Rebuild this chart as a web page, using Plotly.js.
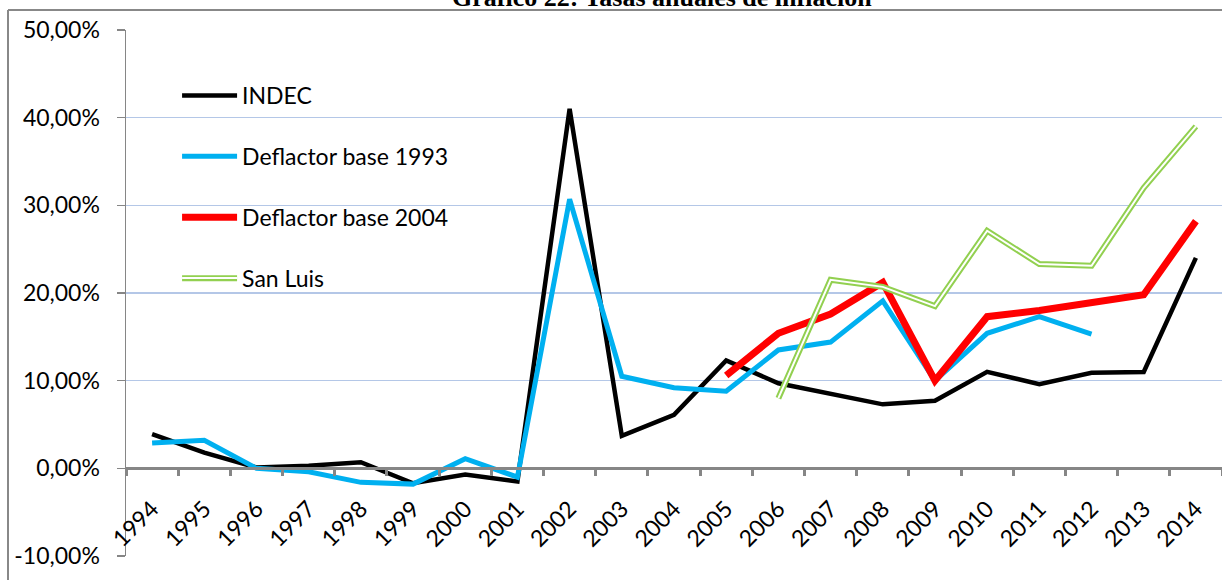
<!DOCTYPE html>
<html>
<head>
<meta charset="utf-8">
<script src="https://cdn.plot.ly/plotly-3.0.1.min.js"></script>
<style>html,body{margin:0;padding:0;background:#fff;}#chart{width:1222px;height:580px;}</style>
</head>
<body>
<div id="chart"></div>
<script>
const years = ['1994','1995','1996','1997','1998','1999','2000','2001','2002','2003','2004','2005','2006','2007','2008','2009','2010','2011','2012','2013','2014'];
const indec = [3.9,1.8,0.1,0.3,0.7,-1.7,-0.7,-1.5,41.0,3.7,6.1,12.3,9.7,8.5,7.3,7.7,11.0,9.6,10.9,11.0,24.0];
const deflactor1993 = [2.9,3.2,0.0,-0.4,-1.6,-1.8,1.1,-1.0,30.7,10.5,9.2,8.8,13.5,14.4,19.1,10.0,15.4,17.3,15.3,null,null];
const deflactor2004 = [null,null,null,null,null,null,null,null,null,null,null,10.6,15.4,17.6,21.2,10.0,17.3,18.0,18.8,19.8,28.2];
const sanLuis = [null,null,null,null,null,null,null,null,null,null,null,null,8.0,21.5,20.7,18.5,27.1,23.3,23.1,32.0,39.0];
const seriesNames = ['INDEC','Deflactor base 1993','Deflactor base 2004','San Luis'];
const yTicks = [-10,0,10,20,30,40,50];
const yTickLabels = ['-10,00%','0,00%','10,00%','20,00%','30,00%','40,00%','50,00%'];
const titleText = 'Gráfico 22: Tasas anuales de inflación';

const FONT = 'Lato, "Open Sans", sans-serif';
const traces = [
  {x: years, y: indec, name: seriesNames[0], mode: 'lines', legendgroup: 'g1',
   line: {color: '#000000', width: 4.5}},
  {x: years, y: deflactor1993, name: seriesNames[1], mode: 'lines', legendgroup: 'g2',
   line: {color: '#00B0F0', width: 5}},
  {x: years, y: deflactor2004, name: seriesNames[2], mode: 'lines', legendgroup: 'g3',
   line: {color: '#FF0000', width: 7}},
  {x: years, y: sanLuis, name: seriesNames[3], mode: 'lines', legendgroup: 'g4',
   line: {color: '#92D050', width: 6}},
  {x: years, y: sanLuis, name: '', mode: 'lines', legend: 'legend2', showlegend: true,
   hoverinfo: 'skip', line: {color: '#FFFFFF', width: 2}}
];

const legendX = 0.0466;
const legendFont = {family: FONT, size: 23, color: '#000000'};
const layout = {
  width: 1222, height: 580,
  margin: {l: 126, r: 0, t: 30, b: 24},
  paper_bgcolor: '#ffffff', plot_bgcolor: '#ffffff',
  separators: ',.',
  font: {family: FONT, size: 23, color: '#000000'},
  showlegend: true,
  legend: {
    x: legendX, y: 1 - 44/526, xanchor: 'left', yanchor: 'top',
    bgcolor: 'rgba(0,0,0,0)', borderwidth: 0,
    font: legendFont, itemwidth: 55, tracegroupgap: 28, traceorder: 'grouped'
  },
  legend2: {
    x: legendX, y: (556 - 278) / 526, xanchor: 'left', yanchor: 'middle',
    bgcolor: 'rgba(0,0,0,0)', borderwidth: 0,
    font: legendFont, itemwidth: 55
  },
  xaxis: {
    type: 'category', anchor: 'free', position: 1/6,
    showline: true, linecolor: '#868686', linewidth: 3,
    ticks: 'outside', ticklen: 6, tickwidth: 3, tickcolor: '#868686',
    tickson: 'boundaries', tickangle: -45, ticklabelstandoff: 16,
    showgrid: false, zeroline: false,
    tickfont: {family: FONT, size: 23, color: '#000000'},
    range: [-0.5, 20.5], fixedrange: true
  },
  yaxis: {
    range: [-10, 50], tickmode: 'array', tickvals: yTicks, ticktext: yTickLabels,
    showline: true, linecolor: '#868686', linewidth: 1.5,
    ticks: 'outside', ticklen: 8, tickwidth: 1.5, tickcolor: '#868686',
    ticklabelstandoff: 12,
    showgrid: true, gridcolor: '#B4C7E7', gridwidth: 1.5, zeroline: false,
    tickfont: {family: FONT, size: 23, color: '#000000'},
    fixedrange: true
  },
  annotations: [{
    text: '<b>' + titleText + '</b>', xref: 'paper', yref: 'paper',
    x: 0.489, y: 1 + 33/526, xanchor: 'center', yanchor: 'middle', showarrow: false,
    font: {family: '"Liberation Serif", "Times New Roman", serif', size: 26, color: '#000000'}
  }],
  shapes: [
    {type: 'line', xref: 'paper', yref: 'paper', x0: -118/1096, x1: 1.01, y0: 1 + 20/526, y1: 1 + 20/526,
     line: {color: '#888888', width: 2}},
    {type: 'line', xref: 'paper', yref: 'paper', x0: -118/1096, x1: -118/1096, y0: 1 + 20/526, y1: -30/526,
     line: {color: '#888888', width: 2}}
  ]
};

Plotly.newPlot('chart', traces, layout, {staticPlot: true, displayModeBar: false});
</script>
</body>
</html>
